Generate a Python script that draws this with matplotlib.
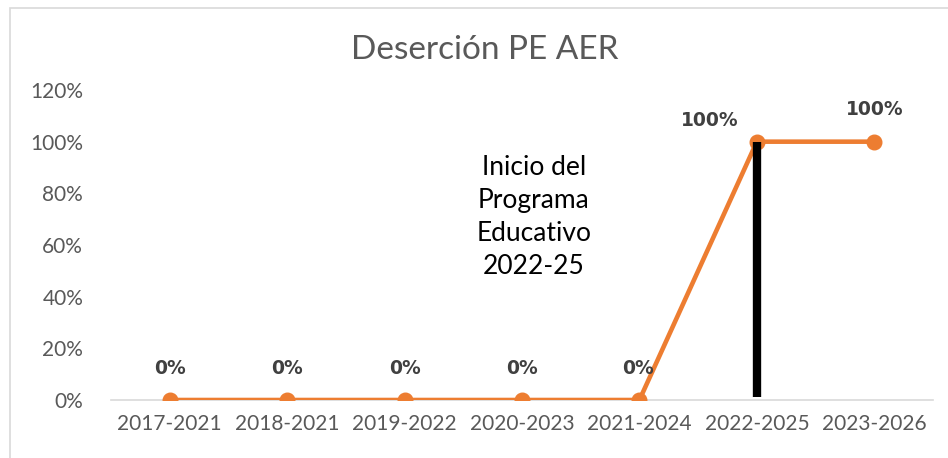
import matplotlib.pyplot as plt
from matplotlib.patches import Rectangle

# datos
cohortes = ['2017-2021', '2018-2021', '2019-2022', '2020-2023',
            '2021-2024', '2022-2025', '2023-2026']
desercion = [0.0, 0.0, 0.0, 0.0, 0.0, 1.0, 1.0]
etiquetas = ['0%', '0%', '0%', '0%', '0%', '100%', '100%']
yticks = [0.0, 0.2, 0.4, 0.6, 0.8, 1.0, 1.2]
ytick_labels = ['0%', '20%', '40%', '60%', '80%', '100%', '120%']
inicio_idx = 5  # inicio del programa educativo
nota = 'Inicio del\nPrograma\nEducativo\n2022-25'

naranja = '#ED7D31'
gris = '#595959'

fig = plt.figure(figsize=(9.48, 4.58), dpi=100)
ax = fig.add_axes([111 / 948, 58 / 458, 822 / 948, 310 / 458])

# borde exterior del grafico
fig.patches.append(Rectangle((10 / 948, -0.01), 1.0, (450 / 458) + 0.01,
                             transform=fig.transFigure, fill=False,
                             edgecolor='#D9D9D9', linewidth=1.2))

x = list(range(len(cohortes)))
ax.plot(x, desercion, color=naranja, linewidth=3.3, marker='o',
        markersize=10.5, zorder=3)

# linea vertical negra
ax.vlines(inicio_idx, 0.01, desercion[inicio_idx], color='black',
          linewidth=6, zorder=4)

# etiquetas de datos
offsets = [(0, 23), (0, 23), (0, 23), (0, 23), (-1, 23), (-34, 15), (0, 23)]
for i, (v, lab) in enumerate(zip(desercion, etiquetas)):
    ax.annotate(lab, (i, v), xytext=offsets[i], textcoords='offset points',
                ha='center', va='center', fontsize=13.5, fontweight='bold',
                color='#404040',
                family=['Liberation Sans Narrow', 'DejaVu Sans'])

ax.text(3.1, 0.71, nota, ha='center', va='center', fontsize=19,
        color='black', family='Lato', linespacing=1.4)

ax.set_xlim(-0.5, len(cohortes) - 0.5)
ax.set_ylim(0, 1.2)
ax.set_xticks(x)
ax.set_xticklabels(cohortes, fontsize=15, color=gris, family='Lato')
ax.set_yticks(yticks)
ax.set_yticklabels(ytick_labels, fontsize=15, color=gris, family='Lato')
ax.tick_params(length=0, pad=10)
ax.tick_params(axis='y', pad=20)

for s in ['top', 'right', 'left']:
    ax.spines[s].set_visible(False)
ax.spines['bottom'].set_color('#D9D9D9')
ax.spines['bottom'].set_linewidth(1.2)

fig.text(485 / 948, 1 - 50 / 458, 'Deserción PE AER', ha='center',
         va='center', fontsize=24, color=gris, family='Lato')

fig.savefig('out.png', dpi=100)
